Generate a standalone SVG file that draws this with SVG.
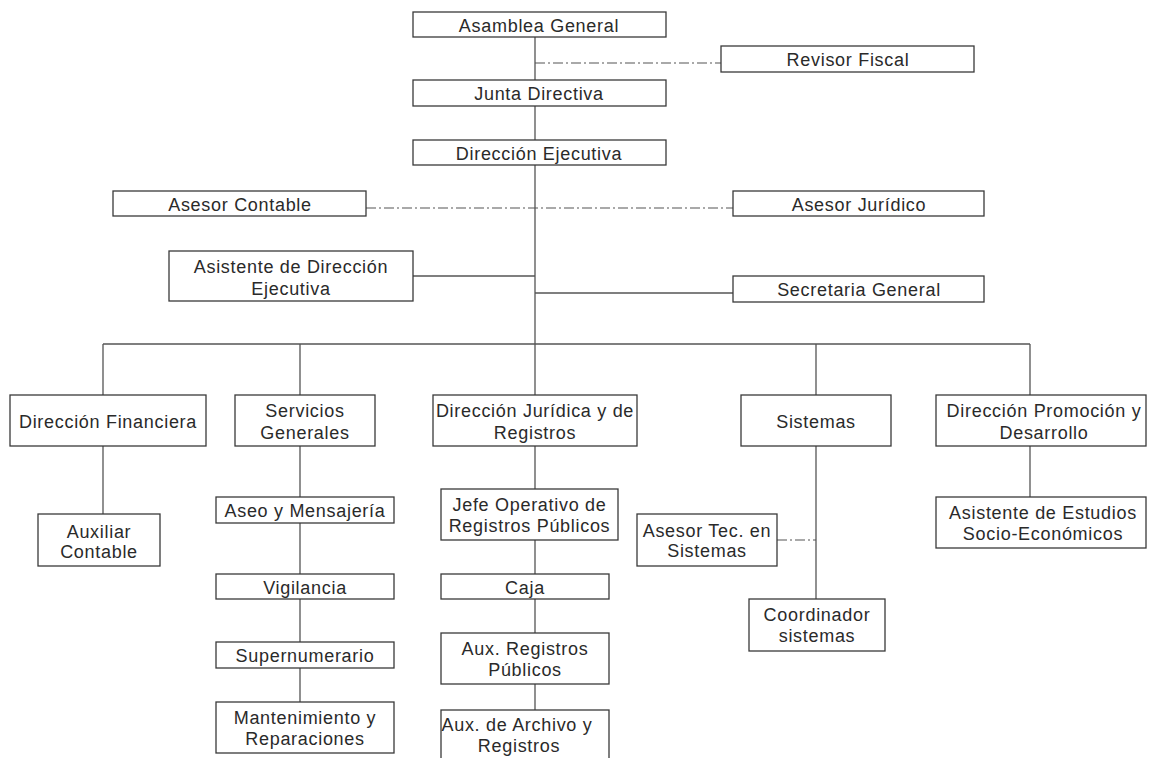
<svg xmlns="http://www.w3.org/2000/svg" width="1149" height="758" viewBox="0 0 1149 758">
<style>
  .box { fill: #ffffff; stroke: #3a3a3a; stroke-width: 1.3; }
  .t { font-family: "Liberation Sans", Arial, sans-serif; font-size: 18px; letter-spacing: 0.7px; fill: #2a2a2a; text-anchor: middle; }
  .ln { stroke: #555555; stroke-width: 1.3; fill: none; }
  .dd { stroke: #555555; stroke-width: 1.2; fill: none; stroke-dasharray: 10 3 2 3; }
</style>
<rect width="1149" height="758" fill="#ffffff"/>
<g id="connectors">
  <path class="ln" d="M535 37 V80 M535 106 V140 M535 165 V344"/>
  <path class="ln" d="M103 344 H1030"/>
  <path class="ln" d="M103 344 V395 M300 344 V395 M535 344 V395 M816 344 V395 M1030 344 V395"/>
  <path class="dd" d="M535 63 H721"/>
  <path class="dd" d="M366 208 H733"/>
  <path class="ln" d="M413 276 H535 M535 293 H733"/>
  <path class="ln" d="M103 446 V514"/>
  <path class="ln" d="M300 446 V497 M300 523 V574 M300 599 V642 M300 668 V702"/>
  <path class="ln" d="M535 446 V489 M535 540 V574 M535 599 V633 M535 684 V710"/>
  <path class="ln" d="M816 446 V599"/>
  <path class="dd" d="M777 540 H816"/>
  <path class="ln" d="M1030 446 V497"/>
</g>
<g id="asamblea"><rect class="box" x="413" y="12" width="253" height="25"/><text class="t" x="539" y="32">Asamblea General</text></g>
<g id="revisor"><rect class="box" x="721" y="46" width="253" height="26"/><text class="t" x="848" y="66">Revisor Fiscal</text></g>
<g id="junta"><rect class="box" x="413" y="80" width="253" height="26"/><text class="t" x="539" y="100">Junta Directiva</text></g>
<g id="ejecutiva"><rect class="box" x="413" y="140" width="253" height="25"/><text class="t" x="539" y="160">Dirección Ejecutiva</text></g>
<g id="asesor-contable"><rect class="box" x="113" y="191" width="253" height="25"/><text class="t" x="240" y="211">Asesor Contable</text></g>
<g id="asesor-juridico"><rect class="box" x="733" y="191" width="251" height="25"/><text class="t" x="859" y="211">Asesor Jurídico</text></g>
<g id="asistente-direccion"><rect class="box" x="169" y="251" width="244" height="50"/><text class="t" x="291" y="273">Asistente de Dirección</text><text class="t" x="291" y="294.5">Ejecutiva</text></g>
<g id="secretaria"><rect class="box" x="733" y="276" width="251" height="26"/><text class="t" x="859" y="296">Secretaria General</text></g>
<g id="dir-financiera"><rect class="box" x="10" y="395" width="196" height="51"/><text class="t" x="108" y="428">Dirección Financiera</text></g>
<g id="servicios"><rect class="box" x="235" y="395" width="140" height="51"/><text class="t" x="305" y="417">Servicios</text><text class="t" x="305" y="439">Generales</text></g>
<g id="dir-juridica"><rect class="box" x="433" y="395" width="204" height="51"/><text class="t" x="535" y="417">Dirección Jurídica y de</text><text class="t" x="535" y="439">Registros</text></g>
<g id="sistemas"><rect class="box" x="741" y="395" width="150" height="51"/><text class="t" x="816" y="428">Sistemas</text></g>
<g id="dir-promocion"><rect class="box" x="936" y="395" width="210" height="51"/><text class="t" x="1044" y="417">Dirección Promoción y</text><text class="t" x="1044" y="439">Desarrollo</text></g>
<g id="auxiliar-contable"><rect class="box" x="38" y="514" width="122" height="52"/><text class="t" x="99" y="537.5">Auxiliar</text><text class="t" x="99" y="558">Contable</text></g>
<g id="aseo"><rect class="box" x="216" y="497" width="178" height="26"/><text class="t" x="305" y="517">Aseo y Mensajería</text></g>
<g id="vigilancia"><rect class="box" x="216" y="574" width="178" height="25"/><text class="t" x="305" y="594">Vigilancia</text></g>
<g id="supernumerario"><rect class="box" x="216" y="642" width="178" height="26"/><text class="t" x="305" y="662">Supernumerario</text></g>
<g id="mantenimiento"><rect class="box" x="216" y="702" width="178" height="51"/><text class="t" x="305" y="724">Mantenimiento y</text><text class="t" x="305" y="745">Reparaciones</text></g>
<g id="jefe-operativo"><rect class="box" x="441" y="489" width="177" height="51"/><text class="t" x="529.5" y="511">Jefe Operativo de</text><text class="t" x="529.5" y="532">Registros Públicos</text></g>
<g id="caja"><rect class="box" x="441" y="574" width="168" height="25"/><text class="t" x="525" y="594">Caja</text></g>
<g id="aux-registros"><rect class="box" x="441" y="633" width="168" height="51"/><text class="t" x="525" y="655">Aux. Registros</text><text class="t" x="525" y="676">Públicos</text></g>
<g id="aux-archivo"><rect class="box" x="441" y="710" width="168" height="52"/><text class="t" x="517" y="731">Aux. de Archivo y</text><text class="t" x="519" y="752">Registros</text></g>
<g id="asesor-tec"><rect class="box" x="637" y="514" width="140" height="52"/><text class="t" x="707" y="537">Asesor Tec. en</text><text class="t" x="707" y="557">Sistemas</text></g>
<g id="coordinador"><rect class="box" x="749" y="599" width="136" height="52"/><text class="t" x="817" y="621">Coordinador</text><text class="t" x="817" y="642">sistemas</text></g>
<g id="asistente-estudios"><rect class="box" x="936" y="497" width="210" height="51"/><text class="t" x="1043" y="519">Asistente de Estudios</text><text class="t" x="1043" y="540">Socio-Económicos</text></g>
</svg>
